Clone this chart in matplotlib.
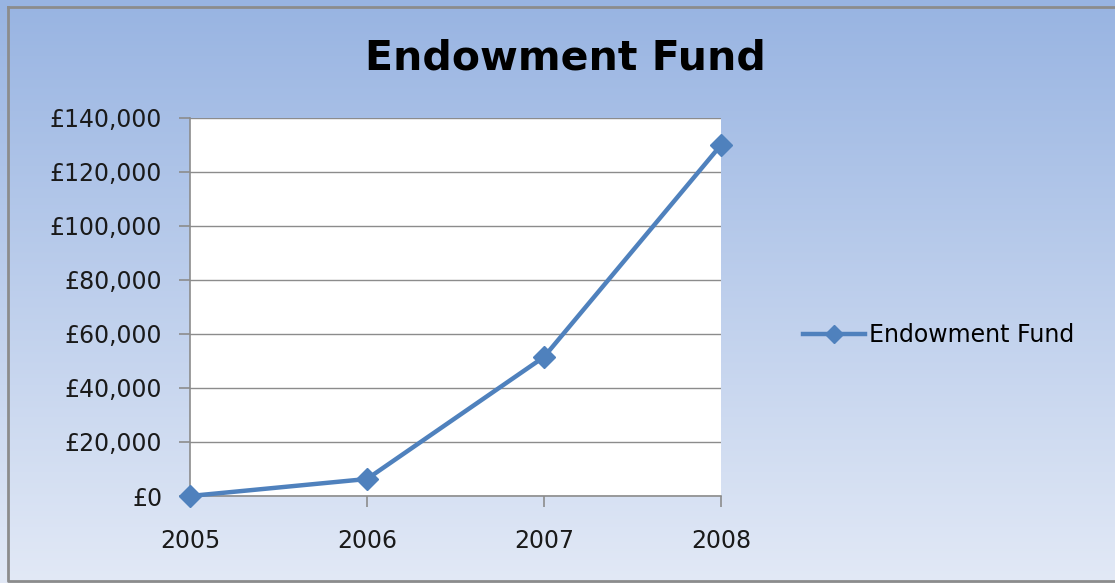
import matplotlib.pyplot as plt
import numpy as np

# endowment fund balance per year
years = [2005, 2006, 2007, 2008]
fund = [0, 6300, 51500, 130000]
ytick_vals = [0, 20000, 40000, 60000, 80000, 100000, 120000, 140000]
ytick_labels = ["£0", "£20,000", "£40,000", "£60,000", "£80,000", "£100,000", "£120,000", "£140,000"]

plt.rcParams['font.family'] = ['DejaVu Sans']

fig = plt.figure(figsize=(11.15, 5.83), dpi=100)

# blue gradient backdrop with a grey frame
bg = fig.add_axes([0, 0, 1, 1])
top = np.array([152, 180, 226]) / 255
bot = np.array([226, 233, 246]) / 255
t = np.linspace(0, 1, 256)[:, None]
grad = top * (1 - t) + bot * t
bg.imshow(grad[:, None, :], aspect='auto', extent=[0, 1, 0, 1])
bg.plot([8/1115, 8/1115, 1.2, 1.2, 8/1115], [1 - 7/583, 2/583, 2/583, 1 - 7/583, 1 - 7/583],
        color="#8c8c8c", lw=2)
bg.set_xlim(0, 1)
bg.set_ylim(0, 1)
bg.axis("off")

# plot area in pixel coords: x 190..721, y 118..496
W, H = 1115, 583
ax = fig.add_axes([190/W, 1 - 496/H, (721-190)/W, (496-118)/H])
ax.set_facecolor("white")
ax.plot(years, fund, color="#4f81bd", lw=3.2, marker="D", markersize=11,
        label="Endowment Fund", clip_on=False, zorder=5)

ax.set_xlim(2005, 2008)
ax.set_ylim(0, 140000)
ax.set_xticks(years)
ax.set_xticklabels([str(y) for y in years])
ax.set_yticks(ytick_vals)
ax.set_yticklabels(ytick_labels)
ax.grid(axis="y", color="#8c8c8c", lw=1)
ax.set_axisbelow(True)
for s in ["top", "right"]:
    ax.spines[s].set_visible(False)
for s in ["left", "bottom"]:
    ax.spines[s].set_color("#8c8c8c")
    ax.spines[s].set_linewidth(1.2)
ax.tick_params(axis="both", colors="#8c8c8c", labelcolor="#1a1a1a", labelsize=17,
               length=8, width=1.2, direction="out")
ax.tick_params(axis="x", pad=16)
ax.tick_params(axis="y", pad=12)

fig.text(565/W, 1 - 58/H, "Endowment Fund", ha="center", va="center",
         fontsize=29.5, fontweight="bold", color="black")

fig.legend(loc="center left", bbox_to_anchor=(782/W, 1 - 335/H), frameon=False,
           fontsize=17, handlelength=2.6, handletextpad=0.2, markerscale=0.8)

plt.savefig("out.png", dpi=100)
